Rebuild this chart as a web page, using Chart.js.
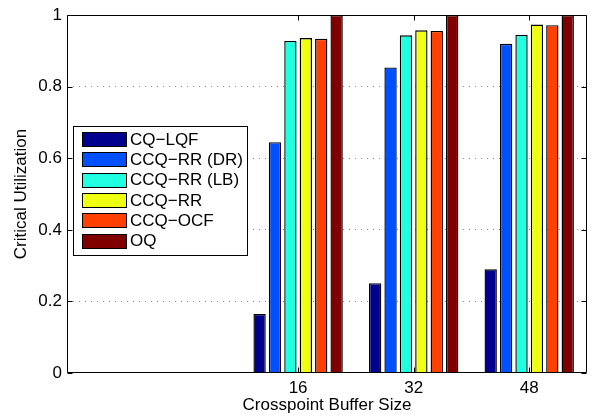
<!DOCTYPE html>
<html>
<head>
<meta charset="utf-8">
<script src="https://cdn.jsdelivr.net/npm/chart.js@4/dist/chart.umd.min.js"></script>
<style>
  html, body { margin: 0; padding: 0; background: #fff; }
  #wrap { width: 595px; height: 419px; }
</style>
</head>
<body>
<div id="wrap"><canvas id="c" width="595" height="419"></canvas></div>
<script>
// Crosspoint buffer sizes (x positions of the bar groups)
const bufferSizes = [16, 32, 48];
const xRange = [-16, 56];

// Scheduler names
const seriesNames = ['CQ\u2212LQF', 'CCQ\u2212RR (DR)', 'CCQ\u2212RR (LB)', 'CCQ\u2212RR', 'CCQ\u2212OCF', 'OQ'];

// Critical utilization per scheduler, one value per buffer size
const cqLqf   = [0.165, 0.251, 0.290];
const ccqRrDr = [0.645, 0.854, 0.920];
const ccqRrLb = [0.928, 0.944, 0.945];
const ccqRr   = [0.936, 0.958, 0.974];
const ccqOcf  = [0.934, 0.956, 0.972];
const oq      = [1.000, 1.000, 1.000];

const yTicks = [0, 0.2, 0.4, 0.6, 0.8, 1];

const seriesColors = ['#00008f', '#0050ff', '#20ffdf', '#efff10', '#ff4000', '#800000'];
const seriesValues = [cqLqf, ccqRrDr, ccqRrLb, ccqRr, ccqOcf, oq];

const FONT = { family: '"Liberation Sans", Arial, Helvetica, sans-serif', size: 17 };

const datasets = seriesNames.map((name, i) => ({
  label: name,
  data: bufferSizes.map((x, j) => ({ x: x, y: seriesValues[i][j] })),
  backgroundColor: seriesColors[i],
  borderColor: '#000',
  borderWidth: 1.4,
  borderSkipped: 'start',
  categoryPercentage: 0.8,
  barPercentage: 0.8
}));

// Axes box with inward tick marks on all four sides
const framePlugin = {
  id: 'frame',
  afterDatasetsDraw(chart) {
    const { ctx, chartArea: a, scales } = chart;
    const L = Math.round(a.left) + 0.5, R = Math.round(a.right) - 0.5;
    const T = Math.round(a.top) + 0.5, B = Math.round(a.bottom) - 0.5;
    ctx.save();
    ctx.strokeStyle = '#000';
    ctx.lineWidth = 1;
    ctx.beginPath();
    ctx.rect(L, T, R - L, B - T);
    const tl = 5;
    yTicks.forEach(v => {
      const y = Math.round(scales.y.getPixelForValue(v)) + 0.5;
      ctx.moveTo(L, y); ctx.lineTo(L + tl, y);
      ctx.moveTo(R, y); ctx.lineTo(R - tl, y);
    });
    bufferSizes.forEach(v => {
      const x = Math.round(scales.x.getPixelForValue(v)) + 0.5;
      ctx.moveTo(x, B); ctx.lineTo(x, B - tl);
      ctx.moveTo(x, T); ctx.lineTo(x, T + tl);
    });
    ctx.stroke();
    ctx.restore();
  }
};

// Boxed legend inside the plot area, upper left
const boxLegendPlugin = {
  id: 'boxLegend',
  afterDraw(chart) {
    const { ctx } = chart;
    const bx = 73.5, by = 126.5, bw = 174, bh = 129;
    const rowH = 20.3, sw = 44, sh = 14;
    ctx.save();
    ctx.fillStyle = '#fff';
    ctx.fillRect(bx, by, bw, bh);
    ctx.strokeStyle = '#000';
    ctx.lineWidth = 1;
    ctx.strokeRect(bx, by, bw, bh);
    ctx.font = `${FONT.size}px ${FONT.family}`;
    ctx.textBaseline = 'middle';
    ctx.textAlign = 'left';
    chart.data.datasets.forEach((ds, i) => {
      const cy = 139 + rowH * i;
      const sy = Math.round(cy - sh / 2) + 0.5;
      ctx.fillStyle = ds.backgroundColor;
      ctx.fillRect(82.5, sy, sw, sh);
      ctx.strokeStyle = '#000';
      ctx.strokeRect(82.5, sy, sw, sh);
      ctx.fillStyle = '#000';
      ctx.fillText(ds.label, 130, cy + 1);
    });
    ctx.restore();
  }
};

new Chart(document.getElementById('c'), {
  type: 'bar',
  data: { datasets },
  options: {
    responsive: false,
    devicePixelRatio: 1,
    animation: false,
    layout: { padding: { left: 0, right: 8, top: 9, bottom: 0 } },
    plugins: {
      legend: { display: false },
      tooltip: { enabled: false }
    },
    scales: {
      x: {
        type: 'linear',
        offset: false,
        min: xRange[0],
        max: xRange[1],
        afterBuildTicks(scale) { scale.ticks = bufferSizes.map(v => ({ value: v })); },
        afterFit(scale) { scale.height = 46; },
        grid: { display: false, drawTicks: false, offset: false },
        border: { display: false },
        ticks: {
          color: '#000', font: FONT, padding: 5, maxRotation: 0,
          autoSkip: false,
          callback: v => String(v)
        },
        title: {
          display: true, text: 'Crosspoint Buffer Size', color: '#000',
          font: FONT, padding: { top: 0, bottom: 3 }
        }
      },
      y: {
        min: 0,
        max: 1,
        afterBuildTicks(scale) { scale.ticks = yTicks.map(v => ({ value: v })); },
        afterFit(scale) { scale.width = 67; },
        grid: {
          drawTicks: false,
          color: ctx => (ctx.tick && (ctx.tick.value === 0 || ctx.tick.value === 1)) ? 'rgba(0,0,0,0)' : '#8a8a8a',
          lineWidth: 1
        },
        border: { display: false, dash: [1, 5] },
        ticks: {
          color: '#000', font: FONT, padding: 5,
          callback: v => String(Math.round(v * 10) / 10)
        },
        title: {
          display: true, text: 'Critical Utilization', color: '#000',
          font: FONT, padding: { top: 11, bottom: 0 }
        }
      }
    }
  },
  plugins: [framePlugin, boxLegendPlugin]
});
</script>
</body>
</html>
